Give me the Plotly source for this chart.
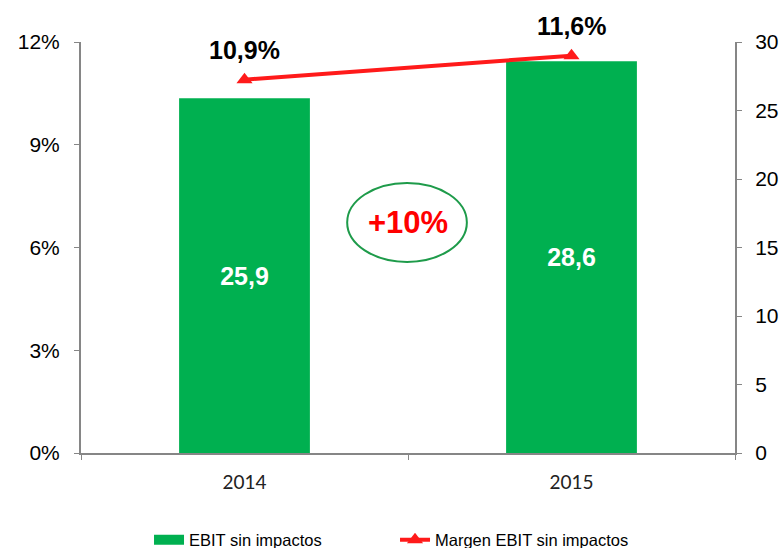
import plotly.graph_objects as go

years = ["2014", "2015"]
ebit = [25.9, 28.6]
margin = [0.109, 0.116]
growth_label = "+10%"

green = "#00B050"
red = "#FF1A1A"
axis_grey = "#868686"

fig = go.Figure()

# bars sit on the right-hand scale (0-30)
fig.add_trace(go.Bar(
    x=years, y=ebit,
    name="EBIT sin impactos",
    marker=dict(color=green, line_width=0),
    width=0.4,
    texttemplate="<b>%{y:.1f}</b>",
    textposition="inside",
    insidetextanchor="middle",
    textfont=dict(size=25, color="white", family="Liberation Sans"),
    showlegend=False,
    yaxis="y",
))
# legend-only entry so the swatch is a wide flat rectangle like the original
fig.add_trace(go.Scatter(
    x=[None], y=[None],
    name="EBIT sin impactos",
    mode="lines",
    line=dict(color=green, width=10),
    yaxis="y",
))

# margin line on the left-hand % scale, drawn above the bars
fig.add_trace(go.Scatter(
    x=years, y=margin,
    name="Margen EBIT sin impactos",
    mode="lines+markers",
    line=dict(color=red, width=4),
    marker=dict(symbol="triangle-up", size=14, color=red),
    yaxis="y2",
))

# value labels above the line (category index used for x)
for i, m in enumerate(margin):
    fig.add_annotation(
        x=i, y=m, xref="x", yref="y2",
        text=f"<b>{m * 100:.1f}%</b>".replace(".", ","),
        showarrow=False, yshift=30,
        font=dict(size=25, color="black", family="Liberation Sans"),
    )

# growth bubble between the bars
fig.add_shape(
    type="circle", xref="paper", yref="paper",
    x0=0.407, x1=0.590, y0=0.465, y1=0.657,
    line=dict(color="#1E9B4A", width=2),
)
fig.add_annotation(
    x=0.5, y=0.561, xref="paper", yref="paper",
    text=f"<b>{growth_label}</b>", showarrow=False,
    font=dict(size=31, color="#FF0000", family="Liberation Sans"),
)

fig.update_layout(
    width=783, height=548,
    margin=dict(l=81, r=48, t=42, b=95, autoexpand=False),
    paper_bgcolor="white",
    plot_bgcolor="white",
    separators=",.",
    font=dict(family="Liberation Sans", color="black"),
    xaxis=dict(
        type="category",
        range=[-0.5, 1.5],
        showline=True, linecolor=axis_grey, linewidth=2,
        ticks="outside", tickson="boundaries", ticklen=5, tickcolor=axis_grey,
        tickfont=dict(size=19, family="Lato", color="#222222"),
        ticklabelstandoff=11,
        showgrid=False,
    ),
    yaxis=dict(
        side="right",
        range=[0, 30], dtick=5,
        showline=True, linecolor=axis_grey, linewidth=2,
        ticks="outside", ticklen=5, tickcolor=axis_grey,
        tickfont=dict(size=21),
        ticklabelstandoff=9,
        showgrid=False, zeroline=False,
    ),
    yaxis2=dict(
        side="left", overlaying="y",
        range=[0, 0.12], dtick=0.03, tickformat=".0%",
        showline=True, linecolor=axis_grey, linewidth=2,
        ticks="outside", ticklen=5, tickcolor=axis_grey,
        tickfont=dict(size=21),
        ticklabelstandoff=10,
        showgrid=False, zeroline=False,
    ),
    showlegend=True,
    legend=dict(
        orientation="h",
        x=0.104, xanchor="left",
        y=-0.212, yanchor="middle",
        font=dict(size=16.5),
        entrywidth=201,
    ),
)

# drop the default 8px body margin so the figure sits flush with the window
fig.write_html(
    "out.html",
    config={"displayModeBar": False},
    post_script="document.body.style.margin='0';",
)
